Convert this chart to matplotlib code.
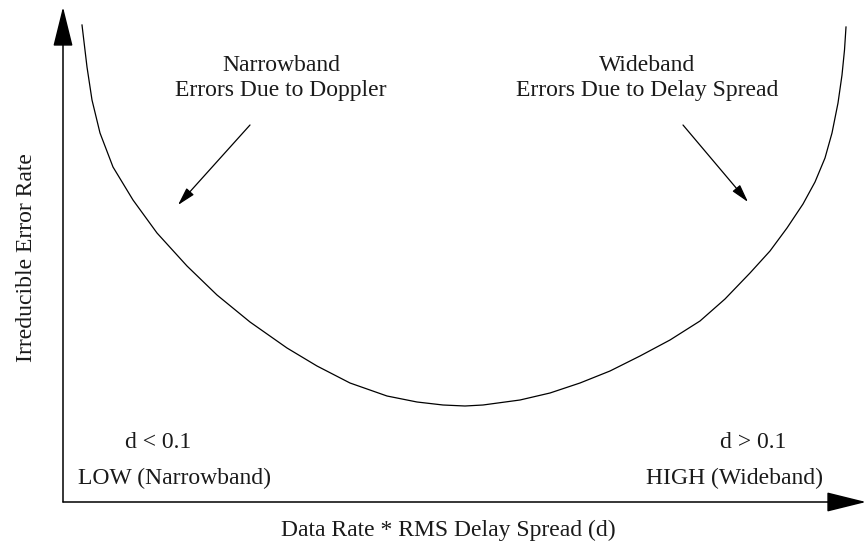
import numpy as np
import matplotlib.pyplot as plt

# U-shaped irreducible error curve (x: data rate * delay spread, y: error rate)
curve_x = [82, 87, 92, 100, 113, 133, 157, 187, 217, 250, 287, 317, 350, 387, 417, 443, 465,
           483, 520, 550, 580, 610, 640, 670, 700, 725, 750, 770, 787, 803, 815, 825, 832,
           838, 842, 844.5, 846]
curve_y = [525, 483, 450, 417, 383, 350, 317, 284, 255, 228, 202, 184, 167, 154, 148, 145, 144,
           145, 150, 157, 167, 179, 194, 210, 229, 251, 277, 299, 322, 346, 368, 392, 417,
           447, 475, 500, 523]

region_titles = ['Narrowband\nErrors Due to Doppler', 'Wideband\nErrors Due to Delay Spread']
region_limits = ['d < 0.1', 'd > 0.1']
region_names = ['LOW (Narrowband)', 'HIGH (Wideband)']

plt.rcParams['font.family'] = ['Liberation Serif', 'DejaVu Serif']
txt_color = '#1a1a1a'

fig = plt.figure(figsize=(8.66, 5.5), dpi=100)
ax = fig.add_axes([0, 0, 1, 1])
ax.set_xlim(0, 866)
ax.set_ylim(0, 550)
ax.axis('off')

ax.plot(curve_x, curve_y, color='black', lw=0.9, solid_joinstyle='round')

# axes drawn as arrows
big_head = dict(arrowstyle='-|>,head_length=2.5,head_width=0.62', mutation_scale=10,
                lw=1.1, color='black', shrinkA=0, shrinkB=0)
ax.annotate('', xy=(63, 543), xytext=(63, 48), arrowprops=big_head)
ax.annotate('', xy=(866, 48), xytext=(63, 48), arrowprops=big_head)

# pointers from the region titles to the curve
small_head = dict(arrowstyle='-|>,head_length=1.1,head_width=0.3', mutation_scale=10,
                  lw=0.9, color='black', shrinkA=0, shrinkB=0)
ax.annotate('', xy=(178, 345), xytext=(250, 425), arrowprops=small_head)
ax.annotate('', xy=(748, 348), xytext=(683, 425), arrowprops=small_head)

fs = 17
ax.text(281, 472, region_titles[0], ha='center', va='center', fontsize=fs,
        color=txt_color, linespacing=1.3)
ax.text(647, 472, region_titles[1], ha='center', va='center', fontsize=fs,
        color=txt_color, linespacing=1.3)

ax.text(158, 108, region_limits[0], ha='center', va='center', fontsize=fs, color=txt_color)
ax.text(174, 72, region_names[0], ha='center', va='center', fontsize=fs, color=txt_color)
ax.text(753, 108, region_limits[1], ha='center', va='center', fontsize=fs, color=txt_color)
ax.text(734, 72, region_names[1], ha='center', va='center', fontsize=fs, color=txt_color)

ax.text(448, 20, 'Data Rate * RMS Delay Spread (d)', ha='center', va='center',
        fontsize=fs, color=txt_color)
ax.text(27, 292, 'Irreducible Error Rate', ha='center', va='center', rotation=90,
        fontsize=fs, color=txt_color)

fig.savefig('out.png', dpi=100, facecolor='white')
